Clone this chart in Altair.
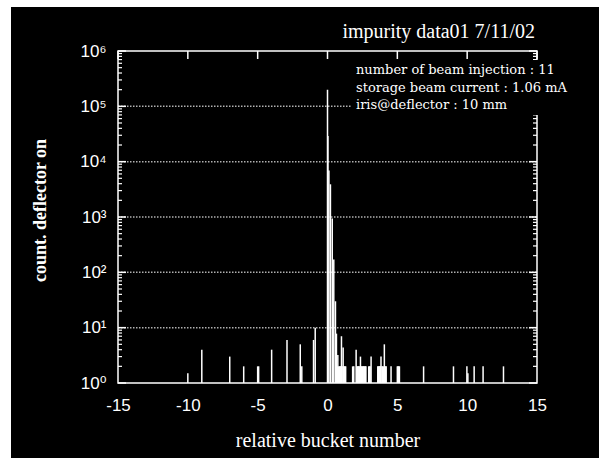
import altair as alt
import pandas as pd

# ---- data ----
bucket = [-10.0, -9.0, -7.0, -6.0, -5.0, -4.93, -4.0, -2.9, -1.95, -1.84, -1.0, -0.88,
          0.0, 0.03, 0.1, 0.21, 0.34, 0.45, 0.57, 0.64, 0.74,
          0.7, 0.8, 0.85, 0.9, 0.95, 1.0, 1.05, 1.12, 1.15, 1.2, 1.25, 1.3,
          1.8, 1.88,
          2.05, 2.1, 2.15, 2.2, 2.25, 2.3, 2.36, 2.4, 2.45, 2.5, 2.55, 2.6, 2.65, 2.7, 2.75,
          2.95, 3.0, 3.05, 3.12,
          3.6, 3.65, 3.7, 3.75, 3.8, 3.83, 3.9, 3.95, 4.0, 4.07, 4.1, 4.15, 4.2,
          4.55, 5.0, 5.05, 5.1, 5.15,
          6.88, 9.02, 9.98, 10.05, 10.5, 11.14, 12.6]
counts = [1.5, 4, 3, 2, 2, 2, 4, 6, 5, 2, 6, 10,
          200000, 29000, 6900, 3900, 940, 170, 30, 7.8, 3.2,
          2, 2, 2, 2, 2, 7, 2, 4.4, 2, 2, 2, 2,
          2, 2,
          4, 2, 2, 2, 2, 2, 3, 2, 2, 2, 2, 2, 2, 2, 2,
          2, 2, 2, 3,
          2, 2, 2, 2, 2, 3, 2, 2, 2, 5, 2, 2, 2,
          2, 2, 2, 2, 2,
          2, 2, 2, 1.5, 2, 2, 2]

x_ticks = [-15, -10, -5, 0, 5, 10, 15]
y_decades = [1, 10, 100, 1000, 10000, 100000, 1000000]
y_grid = [10, 100, 1000, 10000, 100000]
y_minor = [m * d for d in [1, 10, 100, 1000, 10000, 100000] for m in range(2, 10)]

title_text = "impurity data01 7/11/02"
x_title = "relative bucket number"
y_title = "count. deflector on"
notes = ["number of beam injection : 11",
         "storage beam current : 1.06 mA",
         "iris@deflector : 10 mm"]

W, H = 419, 332

spikes = pd.DataFrame({"b": bucket, "c": counts})
xt = pd.DataFrame({"b": x_ticks})
yd = pd.DataFrame({"c": y_decades})
yg = pd.DataFrame({"c": y_grid})
ym = pd.DataFrame({"c": y_minor})
one = pd.DataFrame({"d": [0]})
notes_df = pd.DataFrame({"t": ["\n".join(notes)]})
title_df = pd.DataFrame({"t": [title_text]})

xscale = alt.Scale(domain=[-15, 15], nice=False, zero=False)
yscale = alt.Scale(type="log", domain=[1, 1e6], nice=False)

serif = "Liberation Serif"
sans = "Liberation Sans, DejaVu Sans"

x_axis = alt.Axis(values=x_ticks, ticks=False, domain=False, grid=False, zindex=1,
                  labelExpr="toString(datum.value)",
                  labelFont=sans, labelFontSize=17, labelColor="white",
                  labelPadding=14, labelFlush=False,
                  title=x_title, titleFont=serif, titleFontSize=20,
                  titleFontWeight=400, titleColor="white",
                  titleY=57, titleBaseline="middle")
y_axis = alt.Axis(values=y_decades, ticks=False, domain=False, grid=False, zindex=1,
                  labelExpr="'10' + ['⁰','¹','²','³','⁴','⁵','⁶'][round(log(datum.value)/LN10)]",
                  labelFont=sans, labelFontSize=17, labelColor="white",
                  labelPadding=12,
                  title=y_title, titleFont=serif, titleFontSize=18,
                  titleFontWeight="bold", titleColor="white",
                  titleX=-78, titleY=159, titleAngle=-90,
                  titleBaseline="middle", titleAlign="center")

XQ = alt.X("b:Q", scale=xscale, axis=x_axis)
YQ = alt.Y("c:Q", scale=yscale, axis=y_axis)

bg = alt.Chart(one).mark_rect(color="black").encode(
    x=alt.value(-107), x2=alt.value(481), y=alt.value(-44), y2=alt.value(407))

grid = alt.Chart(yg).mark_rule(color="#b0b0b0", strokeDash=[1.5, 1.5], strokeWidth=1.5).encode(
    y=YQ, x=alt.value(0), x2=alt.value(W))

bars = alt.Chart(spikes).mark_rule(color="white", strokeWidth=1.5).encode(
    x=XQ, y=YQ, y2=alt.datum(1))

frame = alt.Chart(one).mark_rect(filled=False, stroke="white", strokeWidth=1.5).encode(
    x=alt.value(0), x2=alt.value(W), y=alt.value(0), y2=alt.value(H))

top_ticks = alt.Chart(xt).mark_rule(color="white", strokeWidth=1.5).encode(
    x=XQ, y=alt.value(0), y2=alt.value(8))

left_major = alt.Chart(yd).mark_rule(color="white", strokeWidth=1.5).encode(
    y=YQ, x=alt.value(0), x2=alt.value(8))
left_minor = alt.Chart(ym).mark_rule(color="white", strokeWidth=1.2).encode(
    y=YQ, x=alt.value(0), x2=alt.value(4))
right_major = alt.Chart(yd).mark_rule(color="white", strokeWidth=1.5).encode(
    y=YQ, x=alt.value(W - 8), x2=alt.value(W))
right_minor = alt.Chart(ym).mark_rule(color="white", strokeWidth=1.2).encode(
    y=YQ, x=alt.value(W - 4), x2=alt.value(W))

occluder = alt.Chart(one).mark_rect(color="black").encode(
    x=alt.value(234), x2=alt.value(440), y=alt.value(9), y2=alt.value(64))

note_text = alt.Chart(notes_df).mark_text(
    align="left", baseline="alphabetic", lineBreak="\n", lineHeight=17.5,
    font="DejaVu Serif", fontSize=13, color="white").encode(
    x=alt.value(238), y=alt.value(23), text="t:N")

title_mark = alt.Chart(title_df).mark_text(
    align="right", baseline="alphabetic", font=serif, fontSize=20, color="white").encode(
    x=alt.value(W - 2), y=alt.value(-13), text="t:N")

chart = alt.layer(
    bg, grid, bars, frame, top_ticks, left_major, left_minor, right_major, right_minor,
    occluder, note_text, title_mark
).properties(
    width=W, height=H,
    autosize=alt.AutoSizeParams(type="none"),
    padding={"left": 118, "top": 51, "right": 62, "bottom": 78},
    background="white",
).configure_view(stroke=None).configure_axisX(titleFontWeight=400)

chart.save("out.html", embed_options={"renderer": "svg", "actions": False})
